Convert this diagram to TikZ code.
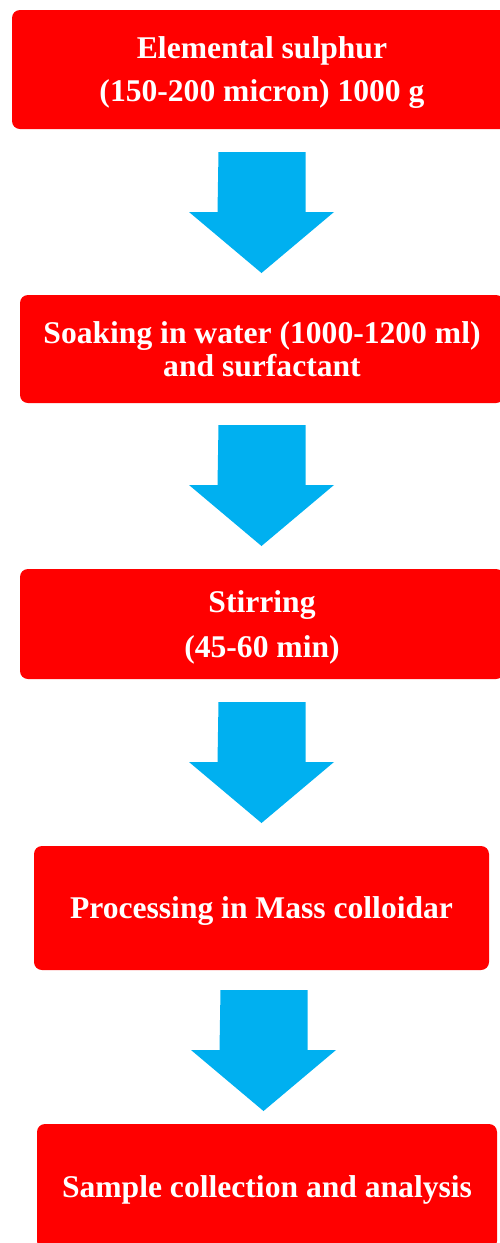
\documentclass[tikz,border=0pt]{standalone}
\usepackage{fontspec}
\setmainfont{Liberation Serif}
\usetikzlibrary{positioning}
\definecolor{boxred}{HTML}{FF0000}
\definecolor{arrowblue}{HTML}{00B0F0}
\tikzset{
    stepbox/.style={
    rectangle,rounded corners=8pt,fill=boxred,text=white,align=center,
    font=\fontsize{31.6}{38}\selectfont\bfseries,inner sep=0pt,text depth=0pt
    },
    blockarrow/.style={
    fill=arrowblue
    },
}
% fat downward arrow, #1 = name, #2 = top middle of the shaft
\newcommand{\flowarrow}[2]{%
  \coordinate (#1) at (#2);
  \fill[blockarrow] (#1) ++(-43.5,0) -- ++(87,0) -- ++(0,60) -- ++(28.5,0)
     -- ++(-72.5,61) -- ++(-72.5,-61) -- ++(28.5,0) -- cycle;
}

\begin{document}
\begin{tikzpicture}[x=1pt,y=-1pt]
   \useasboundingbox (0,0) rectangle (500,1243);
   \node[stepbox,minimum width=500pt,minimum height=119pt] (sulphur) at (262,69.5)
        {Elemental sulphur\\[5pt](150-200 micron) 1000 g};
   \node[stepbox,minimum width=484pt,minimum height=108pt] (soaking) at (262,349)
        {Soaking in water (1000-1200 ml)\\[-5pt]and surfactant};
   \node[stepbox,minimum width=484pt,minimum height=110pt] (stirring) at (262,624)
        {Stirring\\[7pt](45-60 min)};
   \node[stepbox,minimum width=455pt,minimum height=124pt] (colloid) at (261.5,908)
        {Processing in Mass colloidar};
   \node[stepbox,minimum width=460pt,minimum height=125pt] (sample) at (267,1186.5)
        {Sample collection and analysis};

   \flowarrow{a1}{262,152}
   \flowarrow{a2}{262,425}
   \flowarrow{a3}{262,702}
   \flowarrow{a4}{264,990}
\end{tikzpicture}
\end{document}
